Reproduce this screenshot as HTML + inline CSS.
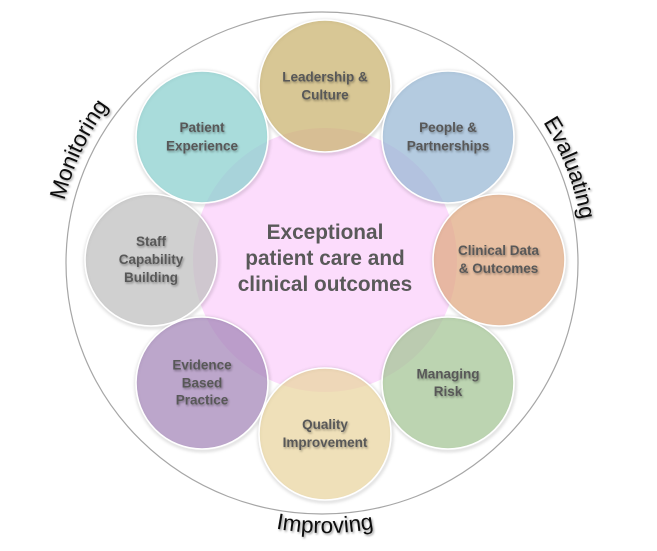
<!DOCTYPE html>
<html>
<head>
<meta charset="utf-8">
<style>
  html,body{margin:0;padding:0;background:#fff;}
  svg{display:block;}
  .lbl{font-family:"Liberation Sans",Arial,sans-serif;font-weight:bold;font-size:13.5px;fill:#595959;}
  .ctr{font-family:"Liberation Sans",Arial,sans-serif;font-weight:bold;font-size:20.8px;fill:#595959;}
  .arc{font-family:"Liberation Sans",Arial,sans-serif;font-size:22.5px;fill:#111;}
</style>
</head>
<body>
<svg width="657" height="551" viewBox="0 0 657 551" xmlns="http://www.w3.org/2000/svg">
  <defs>
    <filter id="blur" x="-20%" y="-20%" width="140%" height="140%">
      <feGaussianBlur stdDeviation="1.6"/>
    </filter>
    <filter id="tsh" x="-20%" y="-40%" width="140%" height="180%">
      <feDropShadow dx="1" dy="1.5" stdDeviation="1" flood-color="#000" flood-opacity="0.35"/>
    </filter>
    <filter id="tsh2" x="-20%" y="-40%" width="140%" height="180%">
      <feDropShadow dx="1.2" dy="1.5" stdDeviation="1.1" flood-color="#000" flood-opacity="0.4"/>
    </filter>
    <path id="pMon" d="M 61.0 309.0 A 265 265 0 0 1 189.5 33.5"/>
    <path id="pEval" d="M 468.5 45.8 A 262 262 0 0 1 576.2 326.4"/>
    <path id="pImp" d="M 170.1 484.2 A 270 270 0 0 0 479.9 484.2"/>
  </defs>

  <rect width="657" height="551" fill="#fff"/>

  <ellipse cx="322" cy="263" rx="256" ry="251" fill="none" stroke="#a6a6a6" stroke-width="1.2"/>

  <circle cx="325" cy="260" r="132" fill="#fcdcfc"/>

  <g fill="none" stroke="#000" stroke-opacity="0.2" stroke-width="2.2" filter="url(#blur)" transform="translate(0.6,1.2)">
    <circle cx="325" cy="86" r="66.5"/>
    <circle cx="448" cy="137" r="66.5"/>
    <circle cx="499" cy="260" r="66.5"/>
    <circle cx="448" cy="383" r="66.5"/>
    <circle cx="325" cy="434" r="66.5"/>
    <circle cx="202" cy="383" r="66.5"/>
    <circle cx="151" cy="260" r="66.5"/>
    <circle cx="202" cy="137" r="66.5"/>
  </g>

  <g stroke="#fff" stroke-width="1.6" fill-opacity="0.75">
    <circle cx="325" cy="86" r="66" fill="#cbb472"/>
    <circle cx="448" cy="137" r="66" fill="#9bbad6"/>
    <circle cx="499" cy="260" r="66" fill="#e0ab84"/>
    <circle cx="448" cy="383" r="66" fill="#a6c697"/>
    <circle cx="325" cy="434" r="66" fill="#ead6a2"/>
    <circle cx="202" cy="383" r="66" fill="#a688ba"/>
    <circle cx="151" cy="260" r="66" fill="#c0c0c0"/>
    <circle cx="202" cy="137" r="66" fill="#8cd0cf"/>
  </g>

  <g class="lbl" text-anchor="middle" filter="url(#tsh)">
    <text x="325" y="81.5">Leadership &amp;</text>
    <text x="325" y="99.5">Culture</text>

    <text x="448" y="132">People &amp;</text>
    <text x="448" y="150.5">Partnerships</text>

    <text x="498.5" y="255">Clinical Data</text>
    <text x="498.5" y="273">&amp; Outcomes</text>

    <text x="448" y="378.5">Managing</text>
    <text x="448" y="396">Risk</text>

    <text x="325" y="429">Quality</text>
    <text x="325" y="447">Improvement</text>

    <text x="202" y="369.5">Evidence</text>
    <text x="202" y="387.5">Based</text>
    <text x="202" y="404.5">Practice</text>

    <text x="151" y="246">Staff</text>
    <text x="151" y="264">Capability</text>
    <text x="151" y="282">Building</text>

    <text x="202" y="132">Patient</text>
    <text x="202" y="150.5">Experience</text>
  </g>

  <g class="ctr" text-anchor="middle">
    <text x="325" y="239">Exceptional</text>
    <text x="325" y="265">patient care and</text>
    <text x="325" y="291">clinical outcomes</text>
  </g>

  <g class="arc" filter="url(#tsh2)">
    <text><textPath href="#pMon" startOffset="50%" text-anchor="middle">Monitoring</textPath></text>
    <text><textPath href="#pEval" startOffset="50%" text-anchor="middle">Evaluating</textPath></text>
    <text><textPath href="#pImp" startOffset="50%" text-anchor="middle">Improving</textPath></text>
  </g>
</svg>
</body>
</html>
